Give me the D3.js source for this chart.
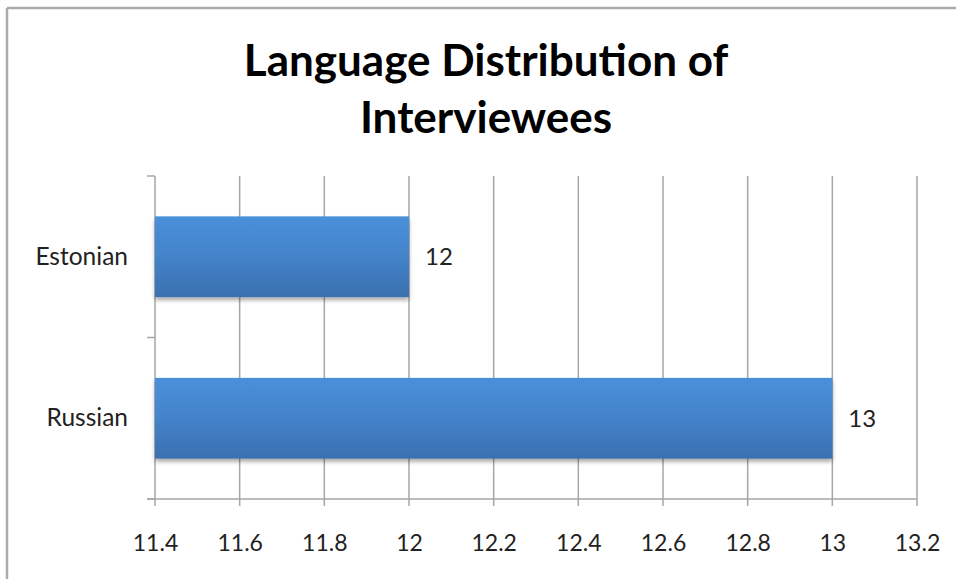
<!DOCTYPE html>
<html>
<head>
<meta charset="utf-8">
<script src="https://cdn.jsdelivr.net/npm/d3@7"></script>
<style>
  body { margin: 0; background: #fff; }
  svg { display: block; }
</style>
</head>
<body>
<div id="chart"></div>
<script>
// data
var languages = ['Estonian', 'Russian'];
var counts = [12, 13];
var xTickValues = [11.4, 11.6, 11.8, 12, 12.2, 12.4, 12.6, 12.8, 13, 13.2];
var xTickLabels = ['11.4', '11.6', '11.8', '12', '12.2', '12.4', '12.6', '12.8', '13', '13.2'];
var titleLines = ['Language Distribution of', 'Interviewees'];

var width = 956, height = 579;
var plotLeft = 155, plotRight = 917, plotTop = 176, plotBottom = 499;
var gridColor = '#a6a6a6';
var font = 'Lato, "Open Sans", sans-serif';

var svg = d3.select('#chart').append('svg')
    .attr('width', width)
    .attr('height', height);

// frame edges (top + left only visible)
svg.append('line').attr('x1', 7).attr('x2', width).attr('y1', 8).attr('y2', 8)
    .style('stroke', '#aaa').style('stroke-width', 2.5);
svg.append('line').attr('x1', 7).attr('x2', 7).attr('y1', 8).attr('y2', height)
    .style('stroke', '#aaa').style('stroke-width', 2.5);

var defs = svg.append('defs');
var grad = defs.append('linearGradient')
    .attr('id', 'barGrad')
    .attr('x1', 0).attr('y1', 0).attr('x2', 0).attr('y2', 1);
grad.append('stop').attr('offset', '0%').attr('stop-color', '#4990da');
grad.append('stop').attr('offset', '45%').attr('stop-color', '#4485cc');
grad.append('stop').attr('offset', '100%').attr('stop-color', '#3a70b0');

var shadow = defs.append('filter').attr('id', 'shadow')
    .attr('x', '-5%').attr('y', '-10%').attr('width', '110%').attr('height', '130%');
shadow.append('feGaussianBlur').attr('in', 'SourceAlpha').attr('stdDeviation', 2);
shadow.append('feOffset').attr('dx', 0).attr('dy', 3).attr('result', 'off');
shadow.append('feComponentTransfer').append('feFuncA').attr('type', 'linear').attr('slope', 0.35);
var merge = shadow.append('feMerge');
merge.append('feMergeNode');
merge.append('feMergeNode').attr('in', 'SourceGraphic');

// title
svg.append('g').selectAll('text')
    .data(titleLines)
    .join('text')
    .attr('x', 486)
    .attr('y', (d, i) => 76 + i * 57)
    .attr('text-anchor', 'middle')
    .style('font-family', font)
    .style('font-weight', 'bold')
    .style('font-size', '44px')
    .style('fill', '#000')
    .text(d => d);

var x = d3.scaleLinear()
    .domain([11.4, 13.2])
    .range([plotLeft, plotRight]);

var y = d3.scaleBand()
    .domain(languages)
    .range([plotTop, plotBottom])
    .paddingInner(0.5)
    .paddingOuter(0.25);

// gridlines
svg.append('g').selectAll('line')
    .data(xTickValues)
    .join('line')
    .attr('x1', d => x(d)).attr('x2', d => x(d))
    .attr('y1', plotTop).attr('y2', plotBottom + 7)
    .style('stroke', gridColor)
    .style('stroke-width', 1.5);

// x axis
var xAxis = d3.axisBottom(x)
    .tickValues(xTickValues)
    .tickFormat((d, i) => xTickLabels[i])
    .tickSize(0)
    .tickPadding(36);

var gx = svg.append('g')
    .attr('transform', 'translate(0,' + plotBottom + ')')
    .call(xAxis);
gx.select('.domain').remove();
gx.selectAll('text')
    .style('font-family', font)
    .style('font-size', '23px')
    .style('fill', '#222');
svg.append('line')
    .attr('x1', plotLeft - 8).attr('x2', plotRight)
    .attr('y1', plotBottom).attr('y2', plotBottom)
    .style('stroke', gridColor).style('stroke-width', 1.5);

// y axis ticks at band boundaries
var bounds = [plotTop, (y('Estonian') + y.bandwidth() + y('Russian')) / 2, plotBottom];
svg.append('g').selectAll('line')
    .data(bounds)
    .join('line')
    .attr('x1', plotLeft - 8).attr('x2', plotLeft)
    .attr('y1', d => d).attr('y2', d => d)
    .style('stroke', gridColor).style('stroke-width', 1.5);

var yAxis = d3.axisLeft(y).tickSize(0).tickPadding(27);
var gy = svg.append('g')
    .attr('transform', 'translate(' + plotLeft + ',0)')
    .call(yAxis);
gy.select('.domain').remove();
gy.selectAll('text')
    .style('font-family', font)
    .style('font-size', '24.5px')
    .style('fill', '#222');

// bars
var rows = languages.map((l, i) => ({ lang: l, value: counts[i] }));
svg.append('g').selectAll('rect')
    .data(rows)
    .join('rect')
    .attr('x', x(11.4))
    .attr('y', d => y(d.lang))
    .attr('width', d => x(d.value) - x(11.4))
    .attr('height', y.bandwidth())
    .style('fill', 'url(#barGrad)')
    .style('filter', 'url(#shadow)');

// value labels
svg.append('g').selectAll('text')
    .data(rows)
    .join('text')
    .attr('x', d => x(d.value) + 16)
    .attr('y', d => y(d.lang) + y.bandwidth() / 2)
    .attr('dy', '0.35em')
    .style('font-family', font)
    .style('font-size', '24px')
    .style('fill', '#222')
    .text(d => d.value);
</script>
</body>
</html>
